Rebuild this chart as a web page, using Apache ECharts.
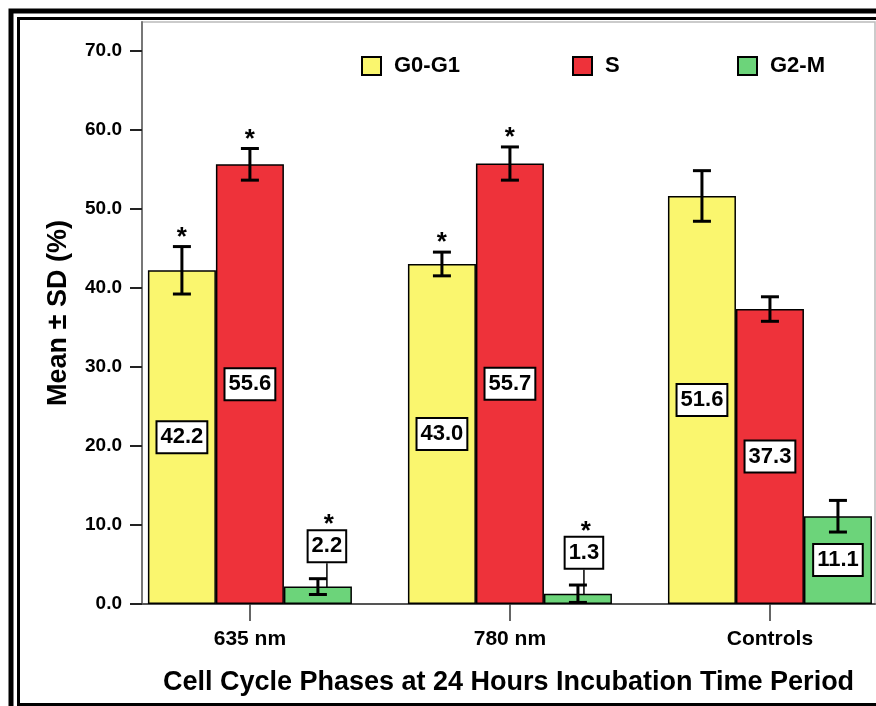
<!DOCTYPE html>
<html><head><meta charset="utf-8">
<script src="https://cdn.jsdelivr.net/npm/echarts@6/dist/echarts.min.js"></script>
<style>html,body{margin:0;padding:0;background:#fff}#c{width:876px;height:706px}</style>
</head><body><div id="c"></div>
<script>
// ---- data ----
const categories = ['635 nm', '780 nm', 'Controls'];
const phases = ['G0-G1', 'S', 'G2-M'];
const meanG0G1 = [42.2, 43.0, 51.6];
const meanS = [55.6, 55.7, 37.3];
const meanG2M = [2.2, 1.3, 11.1];
const sdG0G1 = [3.0, 1.5, 3.2];
const sdS = [2.0, 2.1, 1.55];
const sdG2M = [1.0, 1.1, 2.0];
const sigG0G1 = [1, 1, 0];
const sigS = [1, 1, 0];
const sigG2M = [1, 1, 0];
const yTicks = [0, 10, 20, 30, 40, 50, 60, 70];
const yTickLabels = ['0.0', '10.0', '20.0', '30.0', '40.0', '50.0', '60.0', '70.0'];

// ---- style ----
const COLORS = ['#FAF66E', '#EE323A', '#6CD47A'];
const BAR_W = 68;
const FONT = "'Liberation Sans', Arial, sans-serif";
// label shifts for the small bars (dataIndex-seriesIndex): [dx, dy]
const LABEL_SHIFT = { '0-2': [9, -49], '1-2': [6, -46] };

const means = [meanG0G1, meanS, meanG2M];
const sds = [sdG0G1, sdS, sdG2M];
const sigs = [sigG0G1, sigS, sigG2M];

const chart = echarts.init(document.getElementById('c'), null, { renderer: 'canvas' });

const barSeries = phases.map((name, s) => ({
  name,
  type: 'bar',
  barWidth: BAR_W,
  barGap: '0%',
  data: means[s].map((v, i) => [i, v]),
  itemStyle: { color: COLORS[s], borderColor: '#000', borderWidth: 1.5 },
  label: {
    show: true,
    position: 'inside',
    formatter: p => p.value[1].toFixed(1),
    color: '#000',
    fontFamily: FONT,
    fontSize: 22,
    fontWeight: 'bold',
    backgroundColor: '#fff',
    borderColor: '#000',
    borderWidth: 2,
    padding: [5, 3, 3, 3]
  },
  labelLayout: p => {
    const sh = LABEL_SHIFT[p.dataIndex + '-' + p.seriesIndex];
    return sh ? { dx: sh[0], dy: sh[1] } : {};
  },
  labelLine: { show: s === 2, lineStyle: { color: '#000', width: 1.5 } },
  z: 2
}));

const errData = [];
phases.forEach((name, s) => {
  means[s].forEach((v, i) => errData.push([i, v, sds[s][i], s, sigs[s][i]]));
});

const errSeries = {
  type: 'custom',
  name: 'err',
  data: errData,
  encode: { x: 0, y: 1 },
  z: 5,
  silent: true,
  renderItem: (params, api) => {
    const i = api.value(0), m = api.value(1), sd = api.value(2), s = api.value(3), sig = api.value(4);
    const c = api.coord([i, m]);
    const x = c[0] + (s - 1) * BAR_W;
    const yTop = api.coord([i, m + sd])[1];
    const yBot = api.coord([i, m - sd])[1];
    const st = { stroke: '#000', lineWidth: 3 };
    const children = [
      { type: 'line', shape: { x1: x, y1: yTop, x2: x, y2: yBot }, style: st },
      { type: 'line', shape: { x1: x - 9, y1: yTop, x2: x + 9, y2: yTop }, style: st },
      { type: 'line', shape: { x1: x - 9, y1: yBot, x2: x + 9, y2: yBot }, style: st }
    ];
    if (sig) {
      const sh = LABEL_SHIFT[i + '-' + s];
      let ax = x, ay = yTop - 9;
      if (sh) {
        const y0 = api.coord([i, 0])[1];
        const lc = (c[1] + y0) / 2 + sh[1];
        ax = x + sh[0] + 2;
        ay = lc - 17 - 4;
      }
      children.push({
        type: 'text',
        style: { x: ax, y: ay, text: '*', fill: '#000', font: 'bold 26px ' + FONT, align: 'center', verticalAlign: 'middle' }
      });
    }
    return { type: 'group', children };
  }
};

const legendX = [361, 572, 737];
const option = {
  animation: false,
  backgroundColor: '#fff',
  grid: { left: 142, right: 1, top: 22, bottom: 102, show: true, borderColor: '#bbb', borderWidth: 1.5, backgroundColor: 'transparent' },
  legend: phases.map((p, k) => ({
    data: [p],
    left: legendX[k],
    top: 55,
    padding: 0,
    icon: 'rect',
    itemWidth: 19,
    itemHeight: 18,
    selectedMode: false,
    itemStyle: { borderColor: '#000', borderWidth: 2 },
    textStyle: { fontFamily: FONT, fontSize: 22, fontWeight: 'bold', color: '#000', padding: [0, 0, 0, 8] }
  })),
  xAxis: {
    type: 'value',
    min: -0.415,
    max: 2.404,
    name: 'Cell Cycle Phases at 24 Hours Incubation Time Period',
    nameLocation: 'middle',
    nameGap: 65,
    nameTextStyle: { fontFamily: FONT, fontSize: 27, fontWeight: 'bold', color: '#000' },
    axisLine: { show: true, onZero: false, lineStyle: { color: '#555', width: 2 } },
    axisTick: { show: true, customValues: [0, 1, 2], length: 17, lineStyle: { color: '#333', width: 1.5 } },
    axisLabel: {
      customValues: [0, 1, 2],
      formatter: v => categories[Math.round(v)],
      margin: 25,
      fontFamily: FONT, fontSize: 21, fontWeight: 'bold', color: '#000'
    },
    splitLine: { show: false }
  },
  yAxis: {
    type: 'value',
    min: 0,
    max: 73.6,
    name: 'Mean ± SD (%)',
    nameLocation: 'middle',
    nameGap: 70,
    nameTextStyle: { fontFamily: FONT, fontSize: 27, fontWeight: 'bold', color: '#000' },
    axisLine: { show: true, onZero: false, lineStyle: { color: '#777', width: 2 } },
    axisTick: { show: true, customValues: yTicks, length: 12, lineStyle: { color: '#222', width: 2 } },
    axisLabel: {
      customValues: yTicks,
      formatter: v => yTickLabels[yTicks.indexOf(v)],
      margin: 20,
      fontFamily: FONT, fontSize: 19, fontWeight: 'bold', color: '#000'
    },
    splitLine: { show: false }
  },
  graphic: [
    { type: 'rect', silent: true, z: 100, shape: { x: 11, y: 11, width: 1000, height: 1000 }, style: { fill: null, stroke: '#000', lineWidth: 5 } },
    { type: 'rect', silent: true, z: 100, shape: { x: 18.5, y: 18.5, width: 1000, height: 686 }, style: { fill: null, stroke: '#000', lineWidth: 3 } }
  ],
  series: [...barSeries, errSeries]
};
chart.setOption(option);
</script>
</body></html>
